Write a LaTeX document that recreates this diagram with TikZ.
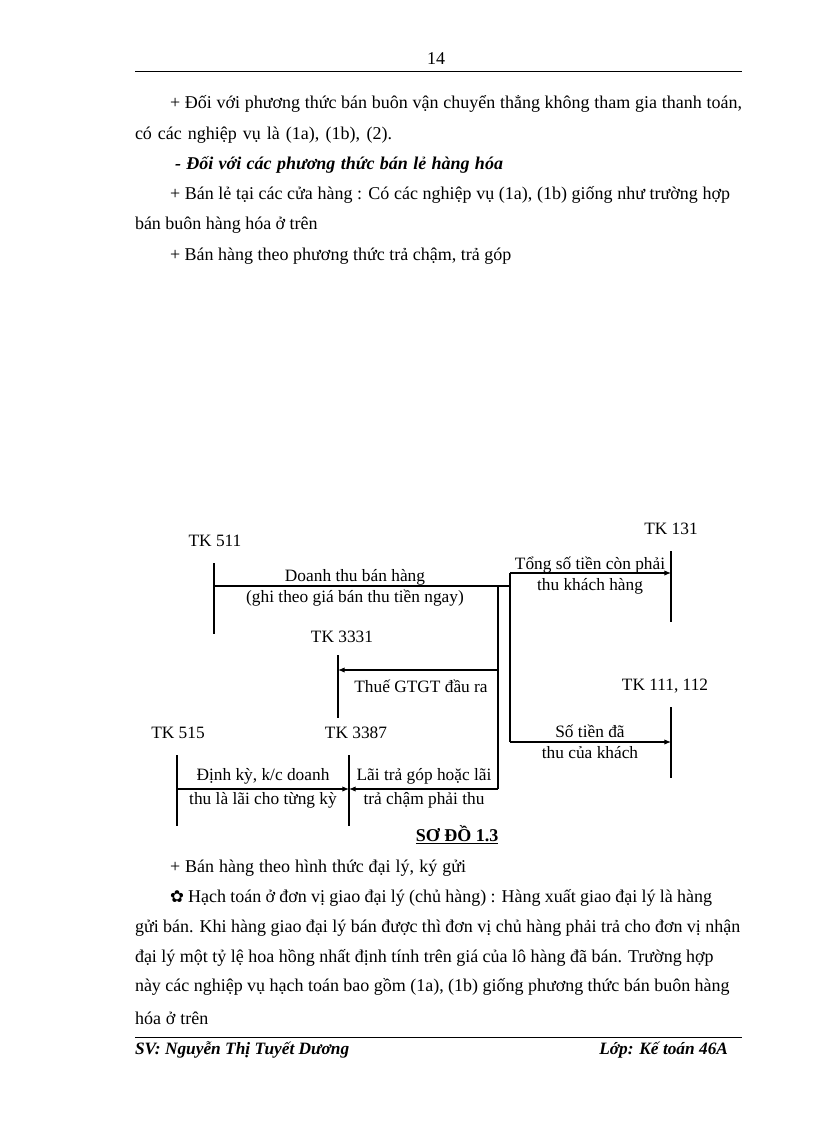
\documentclass[tikz,border=0pt]{standalone}
\usepackage{fontspec}
\setmainfont{Liberation Serif}
\newfontfamily\dingfont{DejaVu Sans}
\usetikzlibrary{arrows.meta}
\newcommand{\jline}[2]{\makebox[#1pt][s]{#2}}
\begin{document}
\begin{tikzpicture}[x=0.75pt,y=-0.75pt,
  every node/.style={inner sep=0pt,outer sep=0pt,font=\fontsize{13}{15}\selectfont},
  body/.style={anchor=west,font=\fontsize{13.5}{16}\selectfont},
  lbl/.style={anchor=center},
  acct/.style={line width=0.8pt},
  conn/.style={line width=0.8pt},
  arr/.style={line width=0.8pt,-{Latex[length=5pt,width=4pt]}},
  rule/.style={line width=0.7pt}]
\useasboundingbox (0,0) rectangle (816,1123);
% header
\node (pg) at (436,59) {\fontsize{13.5}{16}\selectfont 14};
\coordinate (hl) at (135,71); \coordinate (hr) at (742,71);
\draw[rule] (hl) -- (hr);
% body text top
\node[body] (t1) at (170,104) {\jline{429}{+ Đối với phương thức bán buôn vận chuyển thẳng không tham gia thanh toán,}};
\node[body] (t2) at (135,135) {\jline{192.75}{có các nghiệp vụ là (1a), (1b), (2).}};
\node[body] (t3) at (175,165) {\jline{246}{\textbf{\textit{- Đối với các phương thức bán lẻ hàng hóa}}}};
\node[body] (t4) at (170,195) {\jline{420}{+ Bán lẻ tại các cửa hàng : Có các nghiệp vụ (1a), (1b) giống như trường hợp}};
\node[body] (t5) at (135,225) {\jline{137}{bán buôn hàng hóa ở trên}};
\node[body] (t6) at (170,256) {\jline{256}{+ Bán hàng theo phương thức trả chậm, trả góp}};
% accounts
\node[lbl] (n511) at (215,541) {TK 511};
\coordinate (a511t) at (214,563); \coordinate (a511b) at (214,634);
\draw[acct] (a511t) -- (a511b);
\node[lbl] (n131) at (671,529) {TK 131};
\coordinate (a131t) at (671,551); \coordinate (a131b) at (671,622);
\draw[acct] (a131t) -- (a131b);
\node[lbl] (n3331) at (342,637) {TK 3331};
\coordinate (a3331t) at (338,655); \coordinate (a3331b) at (338,718);
\draw[acct] (a3331t) -- (a3331b);
\node[lbl] (n111) at (665,686) {TK 111, 112};
\coordinate (a111t) at (671,707); \coordinate (a111b) at (671,778);
\draw[acct] (a111t) -- (a111b);
\node[lbl] (n515) at (178,733) {TK 515};
\coordinate (a515t) at (177,755); \coordinate (a515b) at (177,826);
\draw[acct] (a515t) -- (a515b);
\node[lbl] (n3387) at (356,733) {TK 3387};
\coordinate (a3387t) at (349,755); \coordinate (a3387b) at (349,826);
\draw[acct] (a3387t) -- (a3387b);
% connectors
\coordinate (s511) at (214,586);
\coordinate (jR) at (510,586);
\coordinate (jRt) at (510,573);
\coordinate (jRb) at (510,742);
\coordinate (e131) at (671,573);
\coordinate (e111) at (671,742);
\coordinate (jL) at (498,586);
\coordinate (jLa) at (498,670);
\coordinate (jLb) at (498,789);
\coordinate (e3331) at (338,670);
\coordinate (e3387) at (349,789);
\coordinate (s515) at (177,789);
\draw[conn] (s511) -- (jR);
\draw[conn] (jRt) -- (jRb);
\draw[arr] (jRt) -- (e131);
\draw[arr] (jRb) -- (e111);
\draw[conn] (jL) -- (jLb);
\draw[arr] (jLa) -- (e3331);
\draw[arr] (jLb) -- (e3387);
\draw[arr] (s515) -- (e3387);
% diagram labels
\node[lbl] (l1) at (355,577) {Doanh thu bán hàng};
\node[lbl] (l2) at (355,598) {(ghi theo giá bán thu tiền ngay)};
\node[lbl] (l3) at (590,565) {Tổng số tiền còn phải};
\node[lbl] (l4) at (590,586) {thu khách hàng};
\node[lbl] (l5) at (421,686) {Thuế GTGT đầu ra};
\node[lbl] (l6) at (590,731) {Số tiền đã};
\node[lbl] (l7) at (590,753) {thu của khách};
\node[lbl] (l8) at (263,776) {Định kỳ, k/c doanh};
\node[lbl] (l9) at (263,800) {thu là lãi cho từng kỳ};
\node[lbl] (l10) at (424,776) {Lãi trả góp hoặc lãi};
\node[lbl] (l11) at (424,800) {trả chậm phải thu};
\node[lbl] (cap) at (457,835) {\fontsize{13.5}{16}\selectfont\underline{\textbf{SƠ ĐỒ 1.3}}};
% body text bottom
\node[body] (b1) at (170,868) {\jline{222}{+ Bán hàng theo hình thức đại lý, ký gửi}};
\node[body] (b2) at (170,898) {\jline{406.5}{{\dingfont\fontsize{12.5}{13}\selectfont ✿} Hạch toán ở đơn vị giao đại lý (chủ hàng) : Hàng xuất giao đại lý là hàng}};
\node[body] (b3) at (135,928) {\jline{454}{gửi bán. Khi hàng giao đại lý bán được thì đơn vị chủ hàng phải trả cho đơn vị nhận}};
\node[body] (b4) at (135,958) {\jline{434}{đại lý một tỷ lệ hoa hồng nhất định tính trên giá của lô hàng đã bán. Trường hợp}};
\node[body] (b5) at (135,987) {\jline{446}{này các nghiệp vụ hạch toán bao gồm (1a), (1b) giống phương thức bán buôn hàng}};
\node[body] (b6) at (135,1018) {\jline{55}{hóa ở trên}};
% footer
\coordinate (fl) at (135,1037); \coordinate (fr) at (742,1037);
\draw[rule] (fl) -- (fr);
\node[anchor=west] (f1) at (135,1050) {\textbf{\textit{SV: Nguyễn Thị Tuyết Dương}}};
\node[anchor=east] (f2) at (728,1050) {\textbf{\textit{Lớp: Kế toán 46A}}};
\end{tikzpicture}
\end{document}
